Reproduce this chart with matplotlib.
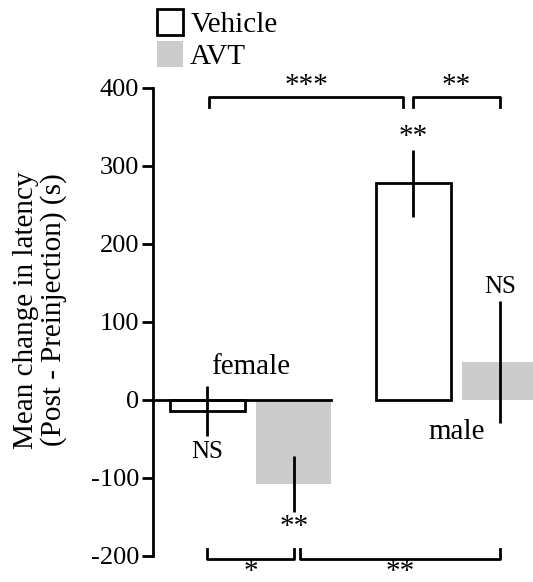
import numpy as np
import matplotlib.pyplot as plt
from matplotlib.patches import Patch

plt.rcParams['font.family'] = ['Liberation Serif', 'DejaVu Serif']

groups = ["female", "male"]
vehicle_mean = [-14, 278]
vehicle_err = [32, 43]
avt_mean = [-108, 49]
avt_err = [36, 78]
# significance marks under/over each bar: (female veh, female avt, male veh, male avt)
bar_marks = ["NS", "**", "**", "NS"]

gray = "#cccccc"
w = 0.364
off = 0.21
x = np.arange(len(groups))

fig = plt.figure(figsize=(5.33, 5.82), dpi=100)
ax = fig.add_axes([0.287, 0.0447, 0.713, 0.8041])

xv = x - off
xa = x + off
ax.bar(xv, vehicle_mean, w, color="white", edgecolor="black", linewidth=2, zorder=2)
ax.bar(xa, avt_mean, w, color=gray, edgecolor="none", zorder=1)
for xs, m, e in [(xv, vehicle_mean, vehicle_err), (xa, avt_mean, avt_err)]:
    ax.errorbar(xs, m, yerr=e, fmt="none", ecolor="black", elinewidth=2, capsize=0, zorder=3)

xlo, xhi = -0.473, 1.371
ax.set_xlim(xlo, xhi)
ax.set_ylim(-200, 400)
# zero line under the female group
ax.plot([xlo, xa[0] + w / 2], [0, 0], color="black", lw=2, zorder=3, clip_on=False)

ax.spines[["top", "right", "bottom"]].set_visible(False)
ax.spines["left"].set_linewidth(2)
ax.set_xticks([])
ax.set_yticks([-200, -100, 0, 100, 200, 300, 400])
ax.set_yticklabels(["-200", "-100", "0", "100", "200", "300", "400"])
ax.tick_params(axis="y", length=8, width=2, labelsize=19, pad=2)
ax.set_ylabel("Mean change in latency\n(Post - Preinjection) (s)", fontsize=21, linespacing=1.05)
ax.yaxis.set_label_coords(-0.226, 0.526)

# group labels
ax.text(x[0], 42, groups[0], ha="center", va="center", fontsize=21)
ax.text(x[1], -41, groups[1], ha="center", va="center", fontsize=21)

# marks at the error bar ends
ax.text(xv[0], vehicle_mean[0] - vehicle_err[0] - 6, bar_marks[0], ha="center", va="top", fontsize=18)
ax.text(xa[0], avt_mean[0] - avt_err[0] - 2, bar_marks[1], ha="center", va="top", fontsize=21)
ax.text(xv[1], vehicle_mean[1] + vehicle_err[1], bar_marks[2], ha="center", va="bottom", fontsize=21)
ax.text(xa[1], avt_mean[1] + avt_err[1] + 4, bar_marks[3], ha="center", va="bottom", fontsize=18)


def bracket(x0, x1, y, tip, label, ty):
    ax.plot([x0, x0, x1, x1], [y + tip, y, y, y + tip], color="black", lw=2, clip_on=False)
    ax.text((x0 + x1) / 2, ty, label, ha="center", va="center", fontsize=21, clip_on=False)


bracket(xv[0] + 0.01, xv[1] - 0.05, 388, -12, "***", 402)
bracket(xv[1] + 0.0, xa[1], 388, -12, "**", 402)
bracket(xv[0], xa[0], -204, 13, "*", -220)
bracket(xa[0] + 0.03, xa[1], -204, 13, "**", -220)

handles = [Patch(facecolor="white", edgecolor="black", linewidth=2),
           Patch(facecolor=gray, edgecolor="none")]
fig.legend(handles, ["Vehicle", "AVT"], loc="upper left", bbox_to_anchor=(0.272, 1.005),
           frameon=False, fontsize=21, handlelength=0.9, handleheight=1.0,
           handletextpad=0.25, labelspacing=0.1, borderaxespad=0)

fig.savefig("out.png", dpi=100)
